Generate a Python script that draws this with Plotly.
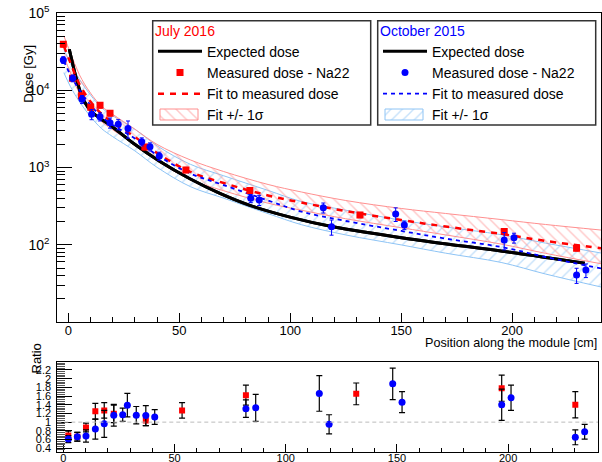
import plotly.graph_objects as go

# ---------------- data ----------------
# July 2016 campaign: measured dose (Na22) along the module
jul_pos = [-2.25, 1.9, 5.9, 10.1, 14.3, 18.8, 34.5, 53.0, 81.8, 131.4, 196.4, 229.0]
jul_dose = [39400, 14300, 8500, 6010, 6380, 5040, 1840, 929, 502, 243, 148, 90]
jul_err = [3150, 1140, 680, 480, 510, 400, 147, 74, 40, 19, 12, 7]

# October 2015 campaign: measured dose (Na22) along the module
oct_pos = [-2.25, 2.0, 6.2, 10.5, 14.3, 18.8, 22.5, 26.9, 33.1, 36.8, 41.0,
           82.2, 86.0, 114.9, 118.6, 147.5, 151.4, 196.4, 200.8, 229.0, 233.2]
oct_dose = [24700, 14300, 7640, 4890, 4550, 3800, 3620, 3200, 2160, 1860, 1410,
            399, 379, 302, 171, 250, 180, 115, 123, 40.6, 47]
oct_err = [2470, 1430, 917, 734, 546, 570, 543, 800, 259, 223, 169,
           48, 57, 45, 38, 50, 22, 29, 18, 9, 9.4]

# Expected (simulated) dose profile
exp_pos = [0.45, 3.8, 6.8, 11.3, 18.8, 29.3, 41.3, 54.8, 68.3, 81.8,
           99.9, 119.2, 153.9, 199.0, 232.7]
exp_dose = [33900, 13580, 7480, 5035, 3550, 2056, 1197, 716, 463, 324,
            228, 171, 119, 80, 57.5]

# Fits to measured dose and their +/- 1 sigma envelopes
fit_pos = [-2, 1, 5, 10, 15, 20, 30, 40, 55, 70, 90, 105, 125, 150, 170, 195, 215, 240]
jul_fit = [37400, 22500, 12050, 7140, 4930, 3880, 2480, 1540, 877, 630, 434, 352, 273, 209, 172, 138, 112, 90]
jul_fit_hi = [50500, 30400, 15900, 9200, 6210, 4890, 3130, 1990, 1254, 887, 603, 482, 374, 295, 254, 212, 183, 155]
jul_fit_lo = [27700, 16700, 9140, 5550, 3920, 3080, 1970, 1220, 697, 500, 345, 280, 217, 166, 134, 102, 77.4, 56.8]
oct_fit = [23900, 15700, 10080, 6440, 4510, 3550, 2370, 1450, 836, 593, 374, 269, 203, 151, 120, 93.5, 69.4, 49.3]
oct_fit_hi = [33800, 22200, 13900, 8690, 5940, 4680, 3130, 1910, 1100, 782, 505, 363, 280, 208, 170, 135, 105, 78.2]
oct_fit_lo = [16900, 11100, 7130, 4560, 3190, 2510, 1640, 1005, 565, 401, 253, 182, 134, 99.5, 77.8, 59.0, 41.8, 28.4]

# Ratio measured / expected
jul_rpos = [2.25, 6.3, 10.2, 14.4, 18.4, 22.7, 37.1, 53.4, 82.1, 131.7, 197.1, 230.2]
jul_ratio = [0.69, 0.665, 0.875, 1.25, 1.27, 1.19, 1.04, 1.27, 1.62, 1.65, 1.78, 1.40]
jul_rerr = [0.1, 0.1, 0.1, 0.18, 0.18, 0.2, 0.12, 0.18, 0.23, 0.25, 0.3, 0.3]
oct_rpos = [2.25, 6.3, 10.2, 14.4, 18.4, 22.7, 26.7, 28.8, 32.8, 37.1, 41.1,
            82.1, 86.5, 115.1, 119.5, 148.1, 152.3, 197.1, 201.3, 230.2, 234.4]
oct_ratio = [0.61, 0.665, 0.68, 0.84, 0.96, 1.16, 1.17, 1.39, 1.16, 1.15, 1.12,
             1.31, 1.33, 1.66, 0.95, 1.88, 1.46, 1.40, 1.56, 0.65, 0.78]
oct_rerr = [0.08, 0.1, 0.14, 0.23, 0.31, 0.25, 0.15, 0.27, 0.2, 0.23, 0.17,
            0.2, 0.31, 0.41, 0.22, 0.36, 0.24, 0.36, 0.29, 0.17, 0.17]

RED = "#ff0000"
BLUE = "#0000ff"
RED_BAND = "#ff8f8f"
BLUE_BAND = "#8ec4f5"
FONT = "Arial, Liberation Sans, Helvetica, sans-serif"
BAND_LABEL = "Fit +/- 1\u03c3"

W, H = 602, 462
def px(x):
    return x / W
def py(y):
    return 1 - y / H

# pixel extents of the main (dose) frame
TOP_L, TOP_R, TOP_T, TOP_B = 57.3, 601, 13, 322

fig = go.Figure()

# ---------------- sigma bands (hatched) ----------------
def band_pattern(color, shape):
    return dict(shape=shape, fgcolor=color, bgcolor="rgba(0,0,0,0)", size=8, solidity=0.18, fillmode="overlay")

def add_band(pos, lo, hi, color, shape, legend):
    fig.add_trace(go.Scatter(x=pos, y=lo, mode="lines", line=dict(color=color, width=1, shape="spline"),
                             showlegend=False, hoverinfo="skip"))
    fig.add_trace(go.Scatter(x=pos, y=hi, mode="lines", line=dict(color=color, width=1, shape="spline"),
                             fill="tonexty", fillcolor="rgba(0,0,0,0)",
                             fillpattern=band_pattern(color, shape),
                             showlegend=False, hoverinfo="skip"))
    # legend entry (its hatched swatch is drawn on the overlay axes below)
    fig.add_trace(go.Scatter(x=[None], y=[None], mode="lines",
                             line=dict(color="rgba(0,0,0,0)", width=0),
                             name=BAND_LABEL, legend=legend, legendrank=4))

add_band(fit_pos, oct_fit_lo, oct_fit_hi, BLUE_BAND, "/", "legend2")
add_band(fit_pos, jul_fit_lo, jul_fit_hi, RED_BAND, "\\", "legend")

# ---------------- expected dose ----------------
for leg in ["legend", "legend2"]:
    fig.add_trace(go.Scatter(x=exp_pos, y=exp_dose, mode="lines",
                             line=dict(color="black", width=3, shape="spline", smoothing=0.9),
                             name="Expected dose", legend=leg, legendrank=1))

# ---------------- fits ----------------
fig.add_trace(go.Scatter(x=fit_pos, y=jul_fit, mode="lines",
                         line=dict(color=RED, width=2.5, dash="6px,6px", shape="spline"),
                         name="Fit to measured dose", legend="legend", legendrank=3))
fig.add_trace(go.Scatter(x=fit_pos, y=oct_fit, mode="lines",
                         line=dict(color=BLUE, width=1.8, dash="4px,4px", shape="spline"),
                         name="Fit to measured dose", legend="legend2", legendrank=3))

# ---------------- measured points ----------------
fig.add_trace(go.Scatter(x=jul_pos, y=jul_dose, mode="markers",
                         marker=dict(symbol="square", size=7, color=RED),
                         error_y=dict(type="data", array=jul_err, color=RED, thickness=1, width=2),
                         name="Measured dose - Na22", legend="legend", legendrank=2))
fig.add_trace(go.Scatter(x=oct_pos, y=oct_dose, mode="markers",
                         marker=dict(symbol="circle", size=7, color=BLUE),
                         error_y=dict(type="data", array=oct_err, color=BLUE, thickness=1, width=2),
                         name="Measured dose - Na22", legend="legend2", legendrank=2))

# ---------------- ratio panel ----------------
fig.add_trace(go.Scatter(x=jul_rpos, y=jul_ratio, mode="markers", xaxis="x2", yaxis="y2",
                         marker=dict(symbol="square", size=6, color=RED),
                         error_y=dict(type="data", array=jul_rerr, color="black", thickness=1.2, width=3),
                         showlegend=False))
fig.add_trace(go.Scatter(x=oct_rpos, y=oct_ratio, mode="markers", xaxis="x2", yaxis="y2",
                         marker=dict(symbol="circle", size=7, color=BLUE),
                         error_y=dict(type="data", array=oct_rerr, color="black", thickness=1.2, width=3),
                         showlegend=False))

# ---------------- hatched legend swatches (pixel-space overlay axes) ----------------
SW_Y0, SW_Y1 = 109, 120
for (x0, x1), color, shape in [((160, 198), RED_BAND, "\\"), ((385, 423), BLUE_BAND, "/")]:
    fig.add_trace(go.Scatter(x=[x0, x1, x1, x0, x0], y=[SW_Y0, SW_Y0, SW_Y1, SW_Y1, SW_Y0],
                             xaxis="x3", yaxis="y3", mode="lines", fill="toself",
                             fillcolor="rgba(0,0,0,0)", fillpattern=band_pattern(color, shape),
                             line=dict(color=color, width=1), showlegend=False, hoverinfo="skip"))

minor_log = [m * 10 ** e for e in range(1, 5) for m in range(2, 10)]

def axis_style(size):
    return dict(showgrid=False, zeroline=False, showline=True, linecolor="black", linewidth=1,
                mirror=True, ticks="inside", tickcolor="black", automargin=False,
                tickfont=dict(family=FONT, size=size, color="black"))

fig.update_layout(
    width=W, height=H, margin=dict(l=0, r=0, t=0, b=0),
    paper_bgcolor="white", plot_bgcolor="rgba(0,0,0,0)",
    font=dict(family=FONT, size=14, color="black"),
    xaxis=dict(domain=[px(TOP_L), px(TOP_R)], range=[-4.95, 240], anchor="y",
               tick0=0, dtick=50, ticklen=9, ticklabelstandoff=-4,
               minor=dict(dtick=10, ticklen=5, ticks="inside", tickcolor="black"),
               **axis_style(13)),
    yaxis=dict(domain=[py(TOP_B), py(TOP_T)], type="log", range=[1, 5], anchor="x",
               tickvals=[1e2, 1e3, 1e4, 1e5],
               ticktext=["10<sup>2</sup>", "10<sup>3</sup>", "10<sup>4</sup>", "10<sup>5</sup>"],
               ticklen=15, ticklabelstandoff=4,
               minor=dict(tickvals=minor_log, ticklen=8, ticks="inside", tickcolor="black"),
               **axis_style(14)),
    xaxis2=dict(domain=[px(57.3), px(598)], range=[-2.7, 240.4], anchor="y2",
                tick0=0, dtick=50, ticklen=8, ticklabelstandoff=-4,
                minor=dict(dtick=10, ticklen=4, ticks="inside", tickcolor="black"),
                **axis_style(11)),
    yaxis2=dict(domain=[py(451.7), py(361.7)], range=[0.32, 2.39], anchor="x2",
                tick0=0, dtick=0.2, ticklen=15, ticklabelstandoff=3,
                minor=dict(dtick=0.04, ticklen=8, ticks="inside", tickcolor="#555"),
                **axis_style(11)),
    # overlay axes in pixel units over the dose frame, used for the legend swatches
    xaxis3=dict(overlaying="x", range=[TOP_L, TOP_R], visible=False, fixedrange=True, anchor="y3"),
    yaxis3=dict(overlaying="y", range=[TOP_B, TOP_T], visible=False, fixedrange=True, anchor="x3"),
    legend=dict(x=px(153), y=py(17.5), xanchor="left", yanchor="top",
                bgcolor="rgba(0,0,0,0)", borderwidth=0, itemwidth=44,
                title=dict(text="July 2016", font=dict(color=RED, size=14, family=FONT)),
                font=dict(family=FONT, size=14, color="black"), traceorder="normal"),
    legend2=dict(x=px(378), y=py(17.5), xanchor="left", yanchor="top",
                 bgcolor="rgba(0,0,0,0)", borderwidth=0, itemwidth=44,
                 title=dict(text="October 2015", font=dict(color=BLUE, size=14, family=FONT)),
                 font=dict(family=FONT, size=14, color="black"), traceorder="normal"),
)

# legend frames and reference line at ratio = 1
fig.add_shape(type="rect", xref="paper", yref="paper", x0=px(152.7), x1=px(370.7), y0=py(125), y1=py(20.7),
              line=dict(color="#333", width=1.5))
fig.add_shape(type="rect", xref="paper", yref="paper", x0=px(377.7), x1=px(595.7), y0=py(125), y1=py(20.7),
              line=dict(color="#333", width=1.5))
fig.add_shape(type="line", xref="x2 domain", yref="y2", x0=0, x1=1, y0=1, y1=1,
              line=dict(color="#bbbbbb", width=1, dash="4px,3px"))

# axis titles
fig.add_annotation(text="Dose [Gy]", xref="paper", yref="paper", x=px(19), y=py(43.3),
                   textangle=-90, showarrow=False, font=dict(family=FONT, size=13))
fig.add_annotation(text="Position along the module [cm]", xref="paper", yref="paper",
                   x=px(599), y=py(343), xanchor="right", yanchor="middle",
                   showarrow=False, font=dict(family=FONT, size=12.6))
fig.add_annotation(text="Ratio", xref="paper", yref="paper", x=px(26), y=py(376),
                   textangle=-90, showarrow=False, font=dict(family=FONT, size=13))

fig.write_html("out.html")
